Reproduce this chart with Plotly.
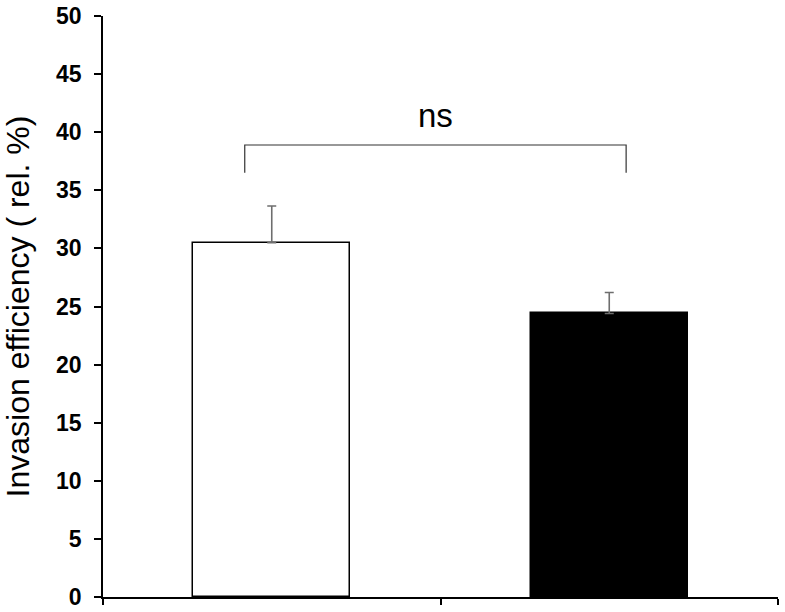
import plotly.graph_objects as go

# data
groups = [0, 1]
values = [30.5, 24.4]
errors = [3.15, 1.8]
bar_colors = ["white", "black"]

bracket_x = [-0.08, -0.08, 1.05, 1.05]
bracket_y = [36.5, 38.9, 38.9, 36.5]
sig_label = "ns"

y_ticks = [0, 5, 10, 15, 20, 25, 30, 35, 40, 45, 50]

fig = go.Figure()

fig.add_trace(go.Bar(
    x=groups,
    y=values,
    width=0.466,
    marker=dict(color=bar_colors, line=dict(color="black", width=1.5)),
    error_y=dict(type="data", array=errors, arrayminus=[0, 0],
                 color="#6e6e6e", thickness=1.6, width=4.5),
    showlegend=False,
))

fig.add_trace(go.Scatter(
    x=bracket_x,
    y=bracket_y,
    mode="lines",
    line=dict(color="#333333", width=1.2),
    showlegend=False,
    hoverinfo="skip",
))

fig.add_annotation(
    x=sum(bracket_x[1:3]) / 2, y=bracket_y[1],
    text=sig_label, showarrow=False, yanchor="bottom", yshift=9,
    font=dict(family="Liberation Sans, Arial", size=33, color="black"),
)

fig.update_layout(
    width=785, height=612,
    margin=dict(l=103, r=7, t=16, b=15),
    plot_bgcolor="white", paper_bgcolor="white",
    bargap=0,
)

fig.update_xaxes(
    range=[-0.5, 1.5],
    tickvals=[-0.5, 0.5, 1.5],
    showticklabels=False,
    ticks="outside", ticklen=6, tickwidth=1.5, tickcolor="black",
    showline=True, linecolor="black", linewidth=1.5,
    showgrid=False, zeroline=False,
    automargin=False,
)

fig.update_yaxes(
    range=[0, 50],
    tickvals=y_ticks,
    ticks="outside", ticklen=7, tickwidth=1.5, tickcolor="black",
    ticklabelstandoff=8,
    ticklabeloverflow="allow",
    tickfont=dict(family="Liberation Sans, Arial", size=23, color="black", weight="bold"),
    showline=True, linecolor="black", linewidth=1.5,
    showgrid=False, zeroline=False,
    automargin=False,
    title=dict(text="Invasion efficiency ( rel. %)", standoff=20,
               font=dict(family="Liberation Sans, Arial", size=32, color="black")),
)

# drop the browser's default body margin so the figure sits at the page corner
fig.write_html("out.html", config={"displayModeBar": False},
               post_script="document.body.style.margin='0';")
